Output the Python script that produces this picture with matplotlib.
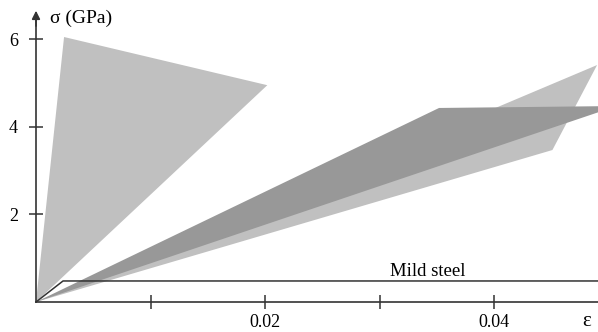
import matplotlib
matplotlib.use('Agg')
import matplotlib.pyplot as plt

plt.rcParams['font.family'] = ['Liberation Serif', 'DejaVu Serif']

# stress-strain envelopes (strain, stress in GPa)
fibre_a_eps = [0, 0.00245, 0.0202]
fibre_a_sig = [0, 6.05, 4.95]
fibre_b_eps = [0, 0.0490, 0.0451]
fibre_b_sig = [0, 5.41, 3.47]
fibre_c_eps = [0, 0.0352, 0.0492, 0.0492]
fibre_c_sig = [0, 4.43, 4.47, 4.34]
steel_eps = [0, 0.00236, 0.0492]
steel_sig = [0, 0.48, 0.48]

xticks = [0.01, 0.02, 0.03, 0.04]
xticklabels = ['', '0.02', '', '0.04']
yticks = [2, 4, 6]
yticklabels = ['2', '4', '6']

light = '#c0c0c0'
dark = '#989898'
ink = '#333333'

fig = plt.figure(figsize=(5.98, 3.32), dpi=100)
ax = fig.add_axes([0, 0, 1, 1])
ax.set_xlim(-0.003144, 0.04908)
ax.set_ylim(-0.685, 6.895)

ax.fill(fibre_a_eps, fibre_a_sig, color=light, lw=0)
ax.fill(fibre_b_eps, fibre_b_sig, color=light, lw=0)
ax.fill(fibre_c_eps, fibre_c_sig, color=dark, lw=0)
ax.plot(steel_eps, steel_sig, color=ink, lw=1.1)
ax.text(0.0342, 0.70, 'Mild steel', fontsize=13.5, ha='center', va='center')

for s in ['top', 'right']:
    ax.spines[s].set_visible(False)
ax.spines['left'].set_position(('data', 0))
ax.spines['bottom'].set_position(('data', 0))
ax.spines['left'].set_bounds(0, 6.5)
ax.spines['bottom'].set_bounds(0, 0.0492)
for s in ['left', 'bottom']:
    ax.spines[s].set_color(ink)
    ax.spines[s].set_linewidth(1.2)
ax.annotate('', xy=(0, 6.65), xytext=(0, 6.3),
            arrowprops=dict(arrowstyle='-|>', color=ink, lw=1.2,
                            mutation_scale=12, shrinkA=0, shrinkB=0))

ax.set_xticks(xticks)
ax.set_xticklabels(xticklabels)
ax.set_yticks(yticks)
ax.set_yticklabels(yticklabels)
ax.tick_params(axis='both', direction='inout', length=10, width=1.1,
               color=ink, labelsize=13)
ax.tick_params(axis='x', pad=4)
ax.tick_params(axis='y', pad=8)

ax.text(0.00122, 6.48, 'σ (GPa)', fontsize=14, ha='left', va='center')
ax.text(0.0481, -0.45, 'ε', fontsize=15, ha='center', va='center')

fig.savefig('out.png', dpi=100)
